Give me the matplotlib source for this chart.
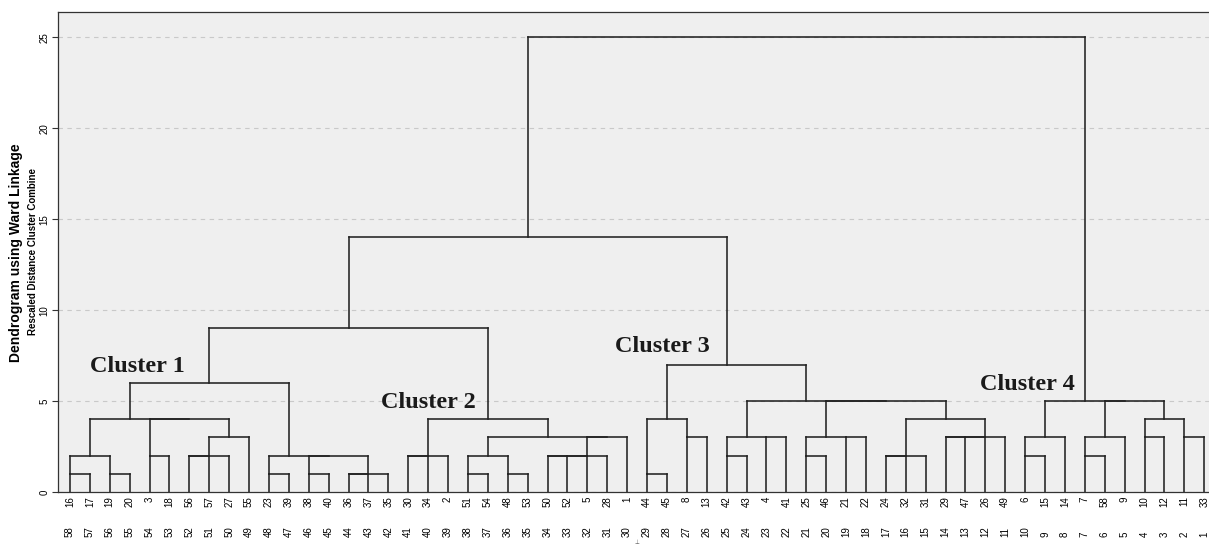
import matplotlib
matplotlib.use("Agg")
import matplotlib.pyplot as plt
from matplotlib.transforms import blended_transform_factory

plt.rcParams["font.family"] = ["Liberation Sans", "DejaVu Sans"]

# leaf labels, left to right (upper row) and the case order row below it
case_labels = [16, 17, 19, 20, 3, 18, 56, 57, 27, 55, 23, 39, 38, 40, 36, 37, 35,
               30, 34, 2, 51, 54, 48, 53, 50, 52, 5, 28, 1,
               44, 45, 8, 13, 42, 43, 4, 41, 25, 46, 21, 22, 24, 32, 31, 29, 47, 26, 49,
               6, 15, 14, 7, 58, 9, 10, 12, 11, 33]
order_labels = list(range(58, 0, -1))

# merges in order: (name, left, right, rescaled distance)
# ints are leaf positions (1-based), strings refer to earlier merges
merges = [
    ("c1a", 1, 2, 1), ("c1b", 3, 4, 1), ("c1c", "c1a", "c1b", 2),
    ("c1d", 5, 6, 2), ("c1e", 7, 8, 2), ("c1f", "c1e", 9, 2),
    ("c1g", "c1f", 10, 3), ("c1h", "c1d", "c1g", 4), ("c1i", "c1c", "c1h", 4),
    ("c1j", 11, 12, 1), ("c1k", 13, 14, 1), ("c1l", 15, 16, 1), ("c1m", "c1l", 17, 1),
    ("c1n", "c1k", "c1m", 2), ("c1o", "c1j", "c1n", 2),
    ("C1", "c1i", "c1o", 6),
    ("c2a", 18, 19, 2), ("c2b", "c2a", 20, 2),
    ("c2c", 21, 22, 1), ("c2d", 23, 24, 1), ("c2e", "c2c", "c2d", 2),
    ("c2f", 25, 26, 2), ("c2g", "c2f", 27, 2), ("c2h", "c2g", 28, 2),
    ("c2i", "c2h", 29, 3), ("c2j", "c2e", "c2i", 3),
    ("C2", "c2b", "c2j", 4),
    ("C12", "C1", "C2", 9),
    ("c3a", 30, 31, 1), ("c3b", 32, 33, 3), ("c3c", "c3a", "c3b", 4),
    ("c3d", 34, 35, 2), ("c3e", 36, 37, 3), ("c3f", "c3d", "c3e", 3),
    ("c3g", 38, 39, 2), ("c3h", 40, 41, 3), ("c3i", "c3g", "c3h", 3),
    ("c3j", 42, 43, 2), ("c3k", "c3j", 44, 2),
    ("c3l", 45, 46, 3), ("c3m", "c3l", 47, 3), ("c3n", "c3m", 48, 3),
    ("c3o", "c3k", "c3n", 4), ("c3p", "c3i", "c3o", 5), ("c3q", "c3f", "c3p", 5),
    ("C3", "c3c", "c3q", 7),
    ("C123", "C12", "C3", 14),
    ("c4a", 49, 50, 2), ("c4b", "c4a", 51, 3),
    ("c4c", 52, 53, 2), ("c4d", "c4c", 54, 3),
    ("c4e", 55, 56, 3), ("c4f", 57, 58, 3), ("c4g", "c4e", "c4f", 4),
    ("c4h", "c4d", "c4g", 5), ("C4", "c4b", "c4h", 5),
    ("root", "C123", "C4", 25),
]

cluster_names = ["Cluster 1", "Cluster 2", "Cluster 3", "Cluster 4"]
y_ticks = [0, 5, 10, 15, 20, 25]

W, H = 1209, 545
fig = plt.figure(figsize=(W / 100, H / 100), dpi=100)
ax = fig.add_axes([58 / W, (H - 492) / H, (W - 58) / W, 480 / H])
ax.set_facecolor("#efefef")

line_kw = dict(color="#222222", lw=1.15, solid_capstyle="projecting")
stem, level = {}, {}


def pos(node):
    if isinstance(node, int):
        return node, 0
    return stem[node], level[node]


for name, a, b, h in merges:
    xa, ha = pos(a)
    xb, hb = pos(b)
    ax.plot([xa, xa], [ha, h], **line_kw)
    ax.plot([xb, xb], [hb, h], **line_kw)
    ax.plot([xa, xb], [h, h], **line_kw)
    stem[name] = (xa + xb) // 2
    level[name] = h

ax.set_xlim(0.4, 58.24)
ax.set_ylim(0, 26.4)

ax.set_yticks(y_ticks)
ax.set_yticklabels([str(t) for t in y_ticks], rotation=90, va="center", fontsize=7)
ax.tick_params(axis="y", length=4, width=0.8, pad=2, color="#333333")
ax.yaxis.grid(True, linestyle=(0, (4, 4)), color="#c9c9c9", lw=0.8)
ax.set_axisbelow(True)

leaf_x = list(range(1, len(case_labels) + 1))
ax.set_xticks(leaf_x)
ax.set_xticklabels([str(c) for c in case_labels], rotation=90, fontsize=7)
ax.tick_params(axis="x", length=0, pad=3)

trans = blended_transform_factory(ax.transData, ax.transAxes)
for x, lab in zip(leaf_x, order_labels):
    ax.text(x, -0.094, str(lab), rotation=90, ha="center", va="bottom",
            fontsize=7, transform=trans)
ax.text(29.5, -0.105, "\u22a5", ha="center", va="center", fontsize=4,
        transform=trans, color="#555555")

for side in ["left", "top", "bottom"]:
    ax.spines[side].set_color("#333333")
    ax.spines[side].set_linewidth(0.9)
ax.spines["right"].set_visible(False)

serif = dict(family=["Liberation Serif", "DejaVu Serif"], fontweight="bold",
             fontsize=17.5, color="#1a1a1a", ha="center", va="center")
ax.text(4.37, 6.9, cluster_names[0], **serif)
ax.text(19.0, 4.95, cluster_names[1], **serif)
ax.text(30.75, 8.0, cluster_names[2], **serif)
ax.text(49.1, 5.9, cluster_names[3], **serif)

fig.text(16 / W, 1 - 253 / H, "Dendrogram using Ward Linkage", rotation=90,
         ha="center", va="center", fontsize=10, fontweight="bold")
fig.text(33 / W, 1 - 251 / H, "Rescaled Distance Cluster Combine", rotation=90,
         ha="center", va="center", fontsize=7, fontweight="bold")

fig.savefig("out.png", dpi=100)
